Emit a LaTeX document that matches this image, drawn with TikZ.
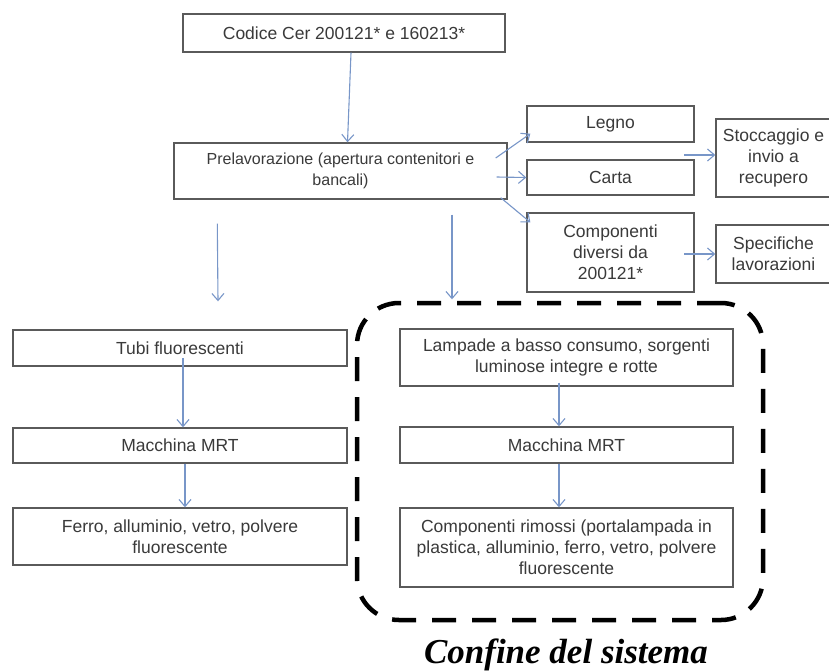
\documentclass[tikz,border=0pt]{standalone}
\usepackage{fontspec}
\setmainfont{Liberation Sans}
\newfontfamily\labelfont{Liberation Serif}
\usetikzlibrary{arrows.meta,calc}
\definecolor{arr}{HTML}{7896C8}
\definecolor{bord}{HTML}{5A5A5A}
\definecolor{txt}{HTML}{3A3A3A}
\begin{document}
\begin{tikzpicture}[x=1pt,y=-1pt,
  box/.style={draw=bord, line width=1.4pt, text=txt, fill=white,
    font=\fontsize{17.5}{21}\selectfont, align=center, inner sep=0pt},
  flow/.style={draw=arr, line width=1.1pt, -{Straight Barb[length=7pt,width=12pt,line width=1.1pt]}},
  boundary/.style={draw=black, line width=4.5pt, dash pattern=on 24pt off 16pt,
    rounded corners=42pt, inner sep=0pt}]
\useasboundingbox (0,0) rectangle (829,670);
\clip (0,0) rectangle (829,670);
% boxes
\node[box, minimum width=322pt, minimum height=38pt] (cod) at (344,33) {Codice Cer 200121* e 160213*};
\node[box, minimum width=333pt, minimum height=56pt, font=\fontsize{16}{21.5}\selectfont] (pre) at (340.5,171) {Prelavorazione (apertura contenitori e\\bancali)};
\node[box, minimum width=167pt, minimum height=36pt] (leg) at (610.5,124) {Legno};
\node[box, minimum width=167pt, minimum height=35pt] (car) at (610.5,177.5) {Carta};
\node[box, minimum width=167pt, minimum height=79pt] (comp) at (610.5,252.5) {Componenti\\diversi da\\200121*};
\node[box, minimum width=115pt, minimum height=78pt] (sto) at (773.5,158) {Stoccaggio e\\invio a\\recupero};
\node[box, minimum width=115pt, minimum height=58pt] (spe) at (773.5,254) {Specifiche\\lavorazioni};
\node[box, minimum width=334pt, minimum height=36pt] (tubi) at (180,348) {Tubi fluorescenti};
\node[box, minimum width=334pt, minimum height=35pt] (mac1) at (180,445.5) {Macchina MRT};
\node[box, minimum width=334pt, minimum height=57pt] (fer) at (180,536.5) {Ferro, alluminio, vetro, polvere\\fluorescente};
\node[box, minimum width=333pt, minimum height=57pt] (lam) at (566.5,357.5) {Lampade a basso consumo, sorgenti\\luminose integre e rotte};
\node[box, minimum width=333pt, minimum height=36pt] (mac2) at (566.5,445) {Macchina MRT};
\node[box, minimum width=333pt, minimum height=79pt] (rim) at (566.5,547.5) {Componenti rimossi (portalampada in\\plastica, alluminio, ferro, vetro, polvere\\fluorescente};
% system boundary
\node[boundary, minimum width=406pt, minimum height=317pt] (bnd) at (560,461.5) {};
\node[anchor=base, font=\labelfont\bfseries\itshape\fontsize{35}{40}\selectfont] (lbl) at (566,663) {Confine del sistema};
% connectors
\draw[flow] ([xshift=7pt]cod.south) -- ([xshift=7pt]pre.north);
\draw[flow] ($(pre.east)+(-12,-13)$) -- ($(leg.south west)+(4,-9)$);
\draw[flow] ($(pre.east)+(-11,6)$) -- (car.west);
\draw[flow] ($(pre.south east)+(-7,-2)$) -- ($(comp.north west)+(4,10)$);
\draw[flow] ($(sto.west)+(-31,-3)$) -- ($(sto.west)+(0,-3)$);
\draw[flow] ($(spe.west)+(-31,0)$) -- (spe.west);
\draw[flow] ($(pre.south west)+(44,24)$) -- ($(tubi.north)+(38,-28)$);
\draw[flow] ($(pre.south)+(111.5,15)$) -- ($(lam.north)+(-114.5,-29)$);
\draw[flow] ($(tubi.center)+(3,10)$) -- ([xshift=3pt]mac1.north);
\draw[flow] ([xshift=5pt]mac1.south) -- ([xshift=5pt]fer.north);
\draw[flow] ($(lam.south)+(-7.5,-4)$) -- ([xshift=-7.5pt]mac2.north);
\draw[flow] ([xshift=-7.5pt]mac2.south) -- ([xshift=-7.5pt]rim.north);
\end{tikzpicture}
\end{document}
